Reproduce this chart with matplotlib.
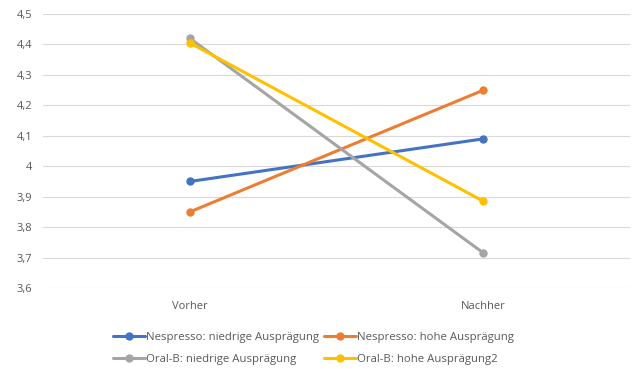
import matplotlib
matplotlib.use("Agg")
import matplotlib.pyplot as plt
from matplotlib.ticker import MultipleLocator, FuncFormatter

categories = ["Vorher", "Nachher"]
series_names = ["Nespresso: niedrige Ausprägung", "Nespresso: hohe Ausprägung",
                "Oral-B: niedrige Ausprägung", "Oral-B: hohe Ausprägung2"]
nespresso_low = [3.95, 4.09]
nespresso_high = [3.85, 4.25]
oralb_low = [4.42, 3.715]
oralb_high = [4.405, 3.885]
colors = ["#4472C4", "#ED7D31", "#A5A5A5", "#FFC000"]

plt.rcParams['font.family'] = ['Open Sans', 'DejaVu Sans']
fig = plt.figure(figsize=(6.34, 3.69), dpi=100)
ax = fig.add_axes([0.068, 0.2195, 0.926, 0.7425])
x = list(range(len(categories)))
handles = []
for vals, name, c in zip([nespresso_low, nespresso_high, oralb_low, oralb_high], series_names, colors):
    h, = ax.plot(x, vals, color=c, lw=2.2, marker='o', ms=5, label=name, solid_capstyle='round')
    handles.append(h)

ax.set_xlim(-0.5, 1.5)
ax.set_ylim(3.6, 4.5)
ax.yaxis.set_major_locator(MultipleLocator(0.1))
ax.yaxis.set_major_formatter(FuncFormatter(lambda v, p: ("%.1f" % v).rstrip('0').rstrip('.').replace('.', ',')))
ax.set_xticks(x)
ax.set_xticklabels(categories)
ax.grid(axis='y', color='#D9D9D9', lw=0.8)
ax.set_axisbelow(True)
for s in ax.spines.values():
    s.set_visible(False)
ax.tick_params(axis='both', length=0, colors='#595959', labelsize=8, pad=8)
ax.tick_params(axis='x', pad=9)

order = [0, 2, 1, 3]
leg = fig.legend(handles=[handles[i] for i in order], loc='lower left', bbox_to_anchor=(0.166, -0.01), ncol=2,
                 frameon=False, fontsize=8.2, handlelength=2.8, handletextpad=0.1,
                 columnspacing=0.45, labelspacing=0.9, borderaxespad=0.3)
for t in leg.get_texts():
    t.set_color('#595959')

fig.savefig("out.png", dpi=100)
